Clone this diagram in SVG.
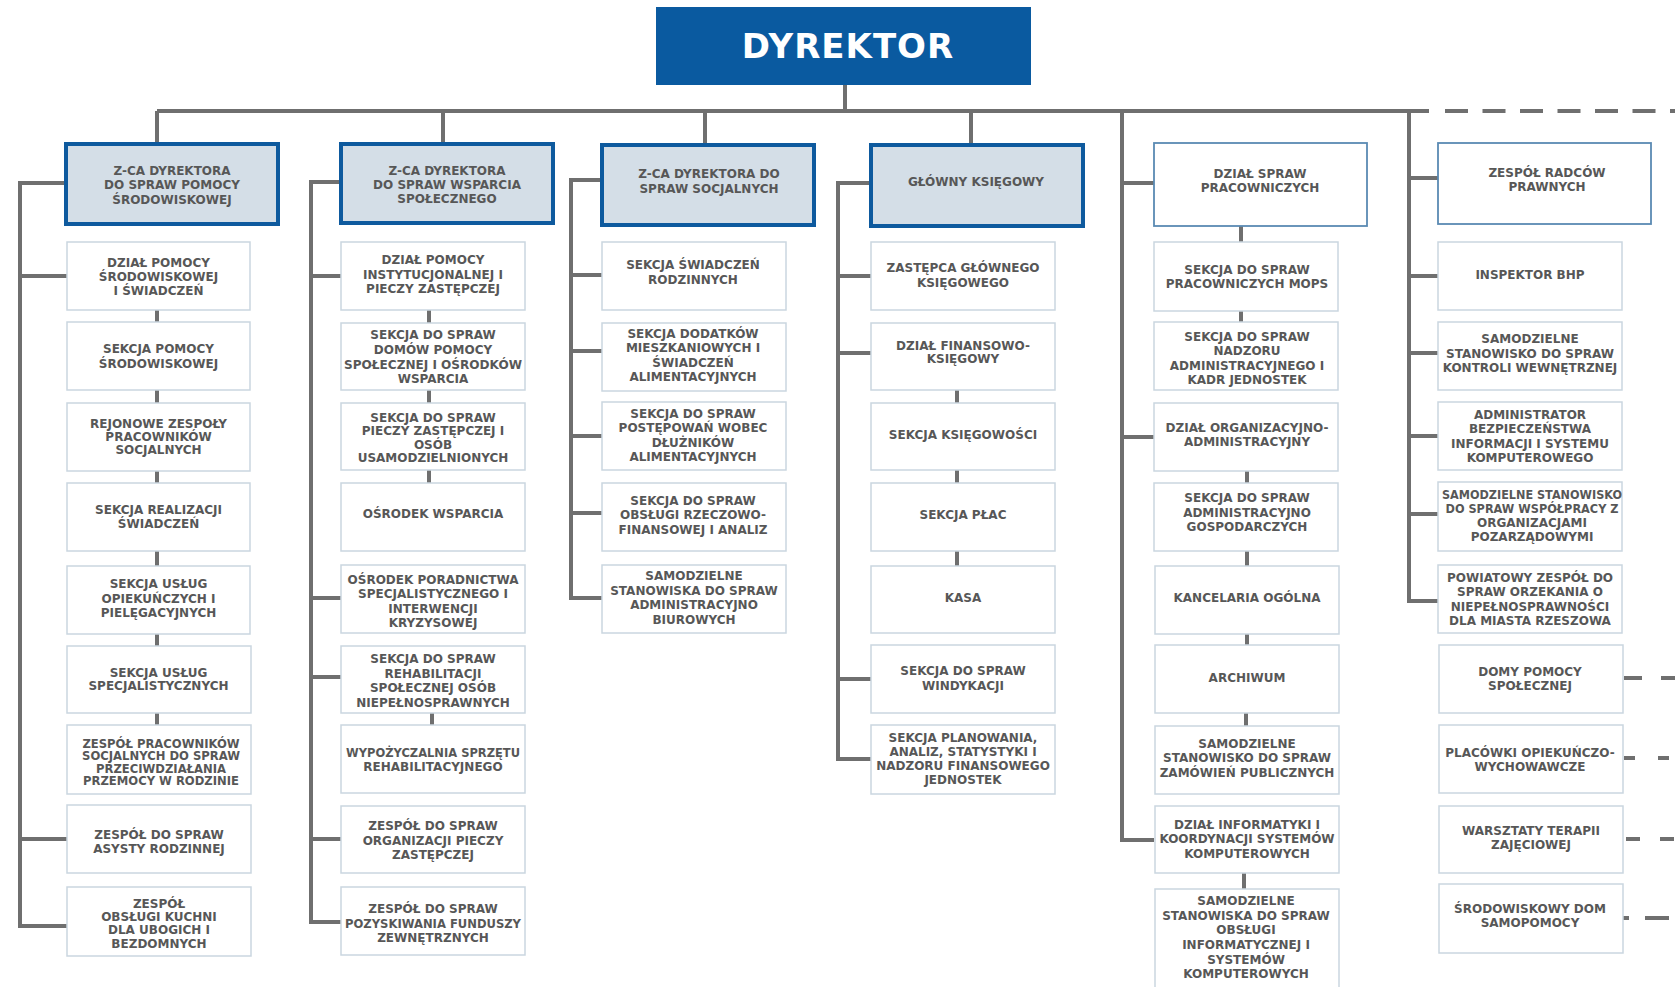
<svg xmlns="http://www.w3.org/2000/svg" width="1675" height="987" viewBox="0 0 1675 987">
<style>
.hd{fill:#d4dee7;stroke:#0e5a9e;stroke-width:4}
.hd2{fill:#fff;stroke:#5a8ab3;stroke-width:1.8}
.bx{fill:#fff;stroke:#cad6e0;stroke-width:1.5}
.t{font-family:"DejaVu Sans","Liberation Sans",sans-serif;font-weight:bold;font-size:12px;fill:#575757;text-anchor:middle}
.ln{stroke:#6f6f6f;stroke-width:4;fill:none}
.dl{stroke:#6f6f6f;stroke-width:4;fill:none}
.dir{font-family:"DejaVu Sans","Liberation Sans",sans-serif;font-weight:bold;font-size:34px;fill:#fff;text-anchor:middle;letter-spacing:1px}
</style>
<rect width="1675" height="987" fill="#fff"/>
<g id="connectors">
<path class="ln" d="M845 85V111M157 111H1429M157 111V142M443 111V142M705 111V143M971 111V143"/>
<path class="dl" d="M1445 111H1675" stroke-dasharray="23 14.5"/>
<path class="ln" d="M64 183H20V926H67M20 276H67M20 839H67"/>
<path class="ln" d="M157 310V322M157 390V403M157 471V483M157 551V566M157 634V646M157 713V725"/>
<path class="ln" d="M339 182H311V922H341M311 276H341M311 598H341M311 677H341M311 839H341"/>
<path class="ln" d="M429 310V323M429 390V403M429 470V483M432 713V725"/>
<path class="ln" d="M600 180H571V598H602M571 275H602M571 351H602M571 436H602M571 513H602"/>
<path class="ln" d="M869 183H838V759H871M838 276H871M838 353H871M838 679H871"/>
<path class="ln" d="M957 390V403M957 470V483M957 551V566"/>
<path class="ln" d="M1122 111V840H1154M1122 183H1154M1122 437H1154"/>
<path class="ln" d="M1241 226V242M1241 311V322M1247 471V483M1247 551V566M1247 634V645M1246 713V726M1244 873V889"/>
<path class="ln" d="M1409 111V601H1438M1409 178H1438M1409 276H1438M1409 353H1438M1409 436H1438M1409 514H1438"/>
<path class="dl" d="M1624 678H1675" stroke-dasharray="18 19"/>
<path class="dl" d="M1624 758H1675" stroke-dasharray="11 23"/>
<path class="dl" d="M1626 839H1675" stroke-dasharray="14 20"/>
<path class="dl" d="M1622 918H1675" stroke-dasharray="7 16 24 20"/>
</g>

<g id="dyrektor">
<rect x="656" y="7" width="375" height="78" fill="#0a5aa0"/>
<text class="dir" x="848" y="58">DYREKTOR</text>
</g>

<!-- Column 1 -->
<g id="c1-head"><rect class="hd" x="66" y="144" width="212" height="80"/>
<text class="t" x="172"><tspan x="172" y="175">Z-CA DYREKTORA</tspan><tspan x="172" y="189">DO SPRAW POMOCY</tspan><tspan x="172" y="203.5">ŚRODOWISKOWEJ</tspan></text></g>
<g id="c1-1"><rect class="bx" x="67" y="242" width="183" height="68"/>
<text class="t"><tspan x="158.5" y="266.5">DZIAŁ POMOCY</tspan><tspan x="158.5" y="281">ŚRODOWISKOWEJ</tspan><tspan x="158.5" y="295">I ŚWIADCZEŃ</tspan></text></g>
<g id="c1-2"><rect class="bx" x="67" y="322" width="183" height="68"/>
<text class="t"><tspan x="158.5" y="353">SEKCJA POMOCY</tspan><tspan x="158.5" y="367.5">ŚRODOWISKOWEJ</tspan></text></g>
<g id="c1-3"><rect class="bx" x="67" y="403" width="183" height="68"/>
<text class="t"><tspan x="158.5" y="427.5">REJONOWE ZESPOŁY</tspan><tspan x="158.5" y="441">PRACOWNIKÓW</tspan><tspan x="158.5" y="454">SOCJALNYCH</tspan></text></g>
<g id="c1-4"><rect class="bx" x="67" y="483" width="183" height="68"/>
<text class="t"><tspan x="158.5" y="514">SEKCJA REALIZACJI</tspan><tspan x="158.5" y="527.5">ŚWIADCZEŃ</tspan></text></g>
<g id="c1-5"><rect class="bx" x="67" y="566" width="183" height="68"/>
<text class="t"><tspan x="158.5" y="588">SEKCJA USŁUG</tspan><tspan x="158.5" y="602.5">OPIEKUŃCZYCH I</tspan><tspan x="158.5" y="617">PIELĘGACYJNYCH</tspan></text></g>
<g id="c1-6"><rect class="bx" x="67" y="646" width="184" height="67"/>
<text class="t"><tspan x="158.5" y="676.5">SEKCJA USŁUG</tspan><tspan x="158.5" y="690">SPECJALISTYCZNYCH</tspan></text></g>
<g id="c1-7"><rect class="bx" x="67" y="725" width="184" height="69"/>
<text class="t" style="font-size:11.6px"><tspan x="161" y="747.5">ZESPÓŁ PRACOWNIKÓW</tspan><tspan x="161" y="760">SOCJALNYCH DO SPRAW</tspan><tspan x="161" y="772.5">PRZECIWDZIAŁANIA</tspan><tspan x="161" y="785">PRZEMOCY W RODZINIE</tspan></text></g>
<g id="c1-8"><rect class="bx" x="67" y="805" width="184" height="68"/>
<text class="t"><tspan x="159" y="839">ZESPÓŁ DO SPRAW</tspan><tspan x="159" y="853">ASYSTY RODZINNEJ</tspan></text></g>
<g id="c1-9"><rect class="bx" x="67" y="887" width="184" height="69"/>
<text class="t"><tspan x="159" y="907.5">ZESPÓŁ</tspan><tspan x="159" y="921">OBSŁUGI KUCHNI</tspan><tspan x="159" y="934">DLA UBOGICH I</tspan><tspan x="159" y="947.5">BEZDOMNYCH</tspan></text></g>

<!-- Column 2 -->
<g id="c2-head"><rect class="hd" x="341" y="144" width="212" height="79"/>
<text class="t"><tspan x="447" y="175">Z-CA DYREKTORA</tspan><tspan x="447" y="188.5">DO SPRAW WSPARCIA</tspan><tspan x="447" y="203">SPOŁECZNEGO</tspan></text></g>
<g id="c2-1"><rect class="bx" x="341" y="242" width="184" height="68"/>
<text class="t"><tspan x="433" y="264">DZIAŁ POMOCY</tspan><tspan x="433" y="278.5">INSTYTUCJONALNEJ I</tspan><tspan x="433" y="293">PIECZY ZASTĘPCZEJ</tspan></text></g>
<g id="c2-2"><rect class="bx" x="341" y="323" width="184" height="67"/>
<text class="t"><tspan x="433" y="339">SEKCJA DO SPRAW</tspan><tspan x="433" y="353.5">DOMÓW POMOCY</tspan><tspan x="433" y="368.5" textLength="178" lengthAdjust="spacingAndGlyphs">SPOŁECZNEJ I OŚRODKÓW</tspan><tspan x="433" y="383">WSPARCIA</tspan></text></g>
<g id="c2-3"><rect class="bx" x="341" y="403" width="184" height="67"/>
<text class="t"><tspan x="433" y="421.5">SEKCJA DO SPRAW</tspan><tspan x="433" y="435">PIECZY ZASTĘPCZEJ I</tspan><tspan x="433" y="448.5">OSÓB</tspan><tspan x="433" y="461.5">USAMODZIELNIONYCH</tspan></text></g>
<g id="c2-4"><rect class="bx" x="341" y="483" width="184" height="68"/>
<text class="t"><tspan x="433" y="517.5">OŚRODEK WSPARCIA</tspan></text></g>
<g id="c2-5"><rect class="bx" x="341" y="565" width="184" height="68"/>
<text class="t"><tspan x="433" y="583.5">OŚRODEK PORADNICTWA</tspan><tspan x="433" y="598">SPECJALISTYCZNEGO I</tspan><tspan x="433" y="612.5">INTERWENCJI</tspan><tspan x="433" y="627">KRYZYSOWEJ</tspan></text></g>
<g id="c2-6"><rect class="bx" x="341" y="646" width="184" height="67"/>
<text class="t"><tspan x="433" y="662.5">SEKCJA DO SPRAW</tspan><tspan x="433" y="677.5">REHABILITACJI</tspan><tspan x="433" y="692">SPOŁECZNEJ OSÓB</tspan><tspan x="433" y="706.5">NIEPEŁNOSPRAWNYCH</tspan></text></g>
<g id="c2-7"><rect class="bx" x="341" y="725" width="184" height="68"/>
<text class="t"><tspan x="433" y="756.5" textLength="174" lengthAdjust="spacingAndGlyphs">WYPOŻYCZALNIA SPRZĘTU</tspan><tspan x="433" y="771">REHABILITACYJNEGO</tspan></text></g>
<g id="c2-8"><rect class="bx" x="341" y="806" width="184" height="67"/>
<text class="t"><tspan x="433" y="830">ZESPÓŁ DO SPRAW</tspan><tspan x="433" y="845">ORGANIZACJI PIECZY</tspan><tspan x="433" y="859">ZASTĘPCZEJ</tspan></text></g>
<g id="c2-9"><rect class="bx" x="341" y="887" width="184" height="68"/>
<text class="t"><tspan x="433" y="912.5">ZESPÓŁ DO SPRAW</tspan><tspan x="433" y="927.5" textLength="176" lengthAdjust="spacingAndGlyphs">POZYSKIWANIA FUNDUSZY</tspan><tspan x="433" y="941.5">ZEWNĘTRZNYCH</tspan></text></g>

<!-- Column 3 -->
<g id="c3-head"><rect class="hd" x="602" y="145" width="212" height="80"/>
<text class="t"><tspan x="709" y="178">Z-CA DYREKTORA DO</tspan><tspan x="709" y="192.5">SPRAW SOCJALNYCH</tspan></text></g>
<g id="c3-1"><rect class="bx" x="602" y="242" width="184" height="68"/>
<text class="t"><tspan x="693" y="269">SEKCJA ŚWIADCZEŃ</tspan><tspan x="693" y="283.5">RODZINNYCH</tspan></text></g>
<g id="c3-2"><rect class="bx" x="602" y="323" width="184" height="68"/>
<text class="t"><tspan x="693" y="337.5">SEKCJA DODATKÓW</tspan><tspan x="693" y="352">MIESZKANIOWYCH I</tspan><tspan x="693" y="366.5">ŚWIADCZEŃ</tspan><tspan x="693" y="381">ALIMENTACYJNYCH</tspan></text></g>
<g id="c3-3"><rect class="bx" x="602" y="402" width="184" height="68"/>
<text class="t"><tspan x="693" y="417.5">SEKCJA DO SPRAW</tspan><tspan x="693" y="432">POSTĘPOWAŃ WOBEC</tspan><tspan x="693" y="446.5">DŁUŻNIKÓW</tspan><tspan x="693" y="461">ALIMENTACYJNYCH</tspan></text></g>
<g id="c3-4"><rect class="bx" x="602" y="483" width="184" height="68"/>
<text class="t"><tspan x="693" y="505">SEKCJA DO SPRAW</tspan><tspan x="693" y="519">OBSŁUGI RZECZOWO-</tspan><tspan x="693" y="533.5">FINANSOWEJ I ANALIZ</tspan></text></g>
<g id="c3-5"><rect class="bx" x="602" y="565" width="184" height="68"/>
<text class="t"><tspan x="694" y="580">SAMODZIELNE</tspan><tspan x="694" y="595">STANOWISKA DO SPRAW</tspan><tspan x="694" y="609">ADMINISTRACYJNO</tspan><tspan x="694" y="623.5">BIUROWYCH</tspan></text></g>

<!-- Column 4 -->
<g id="c4-head"><rect class="hd" x="871" y="145" width="212" height="81"/>
<text class="t"><tspan x="976" y="186">GŁÓWNY KSIĘGOWY</tspan></text></g>
<g id="c4-1"><rect class="bx" x="871" y="242" width="184" height="68"/>
<text class="t"><tspan x="963" y="272">ZASTĘPCA GŁÓWNEGO</tspan><tspan x="963" y="286.5">KSIĘGOWEGO</tspan></text></g>
<g id="c4-2"><rect class="bx" x="871" y="323" width="184" height="67"/>
<text class="t"><tspan x="963" y="350">DZIAŁ FINANSOWO-</tspan><tspan x="963" y="362.5">KSIĘGOWY</tspan></text></g>
<g id="c4-3"><rect class="bx" x="871" y="403" width="184" height="67"/>
<text class="t"><tspan x="963" y="438.5">SEKCJA KSIĘGOWOŚCI</tspan></text></g>
<g id="c4-4"><rect class="bx" x="871" y="483" width="184" height="68"/>
<text class="t"><tspan x="963" y="518.5">SEKCJA PŁAC</tspan></text></g>
<g id="c4-5"><rect class="bx" x="871" y="566" width="184" height="67"/>
<text class="t"><tspan x="963" y="602">KASA</tspan></text></g>
<g id="c4-6"><rect class="bx" x="871" y="645" width="184" height="68"/>
<text class="t"><tspan x="963" y="675">SEKCJA DO SPRAW</tspan><tspan x="963" y="690">WINDYKACJI</tspan></text></g>
<g id="c4-7"><rect class="bx" x="871" y="725" width="184" height="69"/>
<text class="t"><tspan x="963" y="741.5">SEKCJA PLANOWANIA,</tspan><tspan x="963" y="756">ANALIZ, STATYSTYKI I</tspan><tspan x="963" y="770">NADZORU FINANSOWEGO</tspan><tspan x="963" y="784">JEDNOSTEK</tspan></text></g>

<!-- Column 5 -->
<g id="c5-head"><rect class="hd2" x="1154" y="143" width="213" height="83"/>
<text class="t"><tspan x="1260" y="177.5">DZIAŁ SPRAW</tspan><tspan x="1260" y="192">PRACOWNICZYCH</tspan></text></g>
<g id="c5-1"><rect class="bx" x="1154" y="242" width="184" height="69"/>
<text class="t"><tspan x="1247" y="273.5">SEKCJA DO SPRAW</tspan><tspan x="1247" y="288">PRACOWNICZYCH MOPS</tspan></text></g>
<g id="c5-2"><rect class="bx" x="1154" y="322" width="184" height="68"/>
<text class="t"><tspan x="1247" y="341">SEKCJA DO SPRAW</tspan><tspan x="1247" y="355">NADZORU</tspan><tspan x="1247" y="370">ADMINISTRACYJNEGO I</tspan><tspan x="1247" y="384">KADR JEDNOSTEK</tspan></text></g>
<g id="c5-3"><rect class="bx" x="1154" y="403" width="184" height="68"/>
<text class="t"><tspan x="1247" y="432">DZIAŁ ORGANIZACYJNO-</tspan><tspan x="1247" y="446">ADMINISTRACYJNY</tspan></text></g>
<g id="c5-4"><rect class="bx" x="1154" y="483" width="184" height="68"/>
<text class="t"><tspan x="1247" y="502">SEKCJA DO SPRAW</tspan><tspan x="1247" y="516.5">ADMINISTRACYJNO</tspan><tspan x="1247" y="531">GOSPODARCZYCH</tspan></text></g>
<g id="c5-5"><rect class="bx" x="1155" y="566" width="184" height="68"/>
<text class="t"><tspan x="1247" y="602">KANCELARIA OGÓLNA</tspan></text></g>
<g id="c5-6"><rect class="bx" x="1155" y="645" width="184" height="68"/>
<text class="t"><tspan x="1247" y="682">ARCHIWUM</tspan></text></g>
<g id="c5-7"><rect class="bx" x="1155" y="726" width="184" height="68"/>
<text class="t"><tspan x="1247" y="747.5">SAMODZIELNE</tspan><tspan x="1247" y="762">STANOWISKO DO SPRAW</tspan><tspan x="1247" y="776.5">ZAMÓWIEŃ PUBLICZNYCH</tspan></text></g>
<g id="c5-8"><rect class="bx" x="1155" y="806" width="184" height="67"/>
<text class="t"><tspan x="1247" y="828.5">DZIAŁ INFORMATYKI I</tspan><tspan x="1247" y="843">KOORDYNACJI SYSTEMÓW</tspan><tspan x="1247" y="857.5">KOMPUTEROWYCH</tspan></text></g>
<g id="c5-9"><rect class="bx" x="1155" y="889" width="184" height="104"/>
<text class="t"><tspan x="1246" y="905">SAMODZIELNE</tspan><tspan x="1246" y="920">STANOWISKA DO SPRAW</tspan><tspan x="1246" y="934">OBSŁUGI</tspan><tspan x="1246" y="949">INFORMATYCZNEJ I</tspan><tspan x="1246" y="963.5">SYSTEMÓW</tspan><tspan x="1246" y="977.5">KOMPUTEROWYCH</tspan></text></g>

<!-- Column 6 -->
<g id="c6-head"><rect class="hd2" x="1438" y="143" width="213" height="81"/>
<text class="t"><tspan x="1547" y="176.5">ZESPÓŁ RADCÓW</tspan><tspan x="1547" y="191">PRAWNYCH</tspan></text></g>
<g id="c6-1"><rect class="bx" x="1438" y="242" width="184" height="68"/>
<text class="t"><tspan x="1530" y="279">INSPEKTOR BHP</tspan></text></g>
<g id="c6-2"><rect class="bx" x="1438" y="322" width="184" height="68"/>
<text class="t"><tspan x="1530" y="343">SAMODZIELNE</tspan><tspan x="1530" y="357.5">STANOWISKO DO SPRAW</tspan><tspan x="1530" y="372">KONTROLI WEWNĘTRZNEJ</tspan></text></g>
<g id="c6-3"><rect class="bx" x="1438" y="402" width="184" height="68"/>
<text class="t"><tspan x="1530" y="418.5">ADMINISTRATOR</tspan><tspan x="1530" y="433">BEZPIECZEŃSTWA</tspan><tspan x="1530" y="447.5">INFORMACJI I SYSTEMU</tspan><tspan x="1530" y="462">KOMPUTEROWEGO</tspan></text></g>
<g id="c6-4"><rect class="bx" x="1438" y="482" width="184" height="69"/>
<text class="t"><tspan x="1532" y="499" textLength="180" lengthAdjust="spacingAndGlyphs">SAMODZIELNE STANOWISKO</tspan><tspan x="1532" y="513" textLength="173" lengthAdjust="spacingAndGlyphs">DO SPRAW WSPÓŁPRACY Z</tspan><tspan x="1532" y="527">ORGANIZACJAMI</tspan><tspan x="1532" y="541">POZARZĄDOWYMI</tspan></text></g>
<g id="c6-5"><rect class="bx" x="1438" y="565" width="184" height="68"/>
<text class="t"><tspan x="1530" y="581.5">POWIATOWY ZESPÓŁ DO</tspan><tspan x="1530" y="596">SPRAW ORZEKANIA O</tspan><tspan x="1530" y="611">NIEPEŁNOSPRAWNOŚCI</tspan><tspan x="1530" y="625">DLA MIASTA RZESZOWA</tspan></text></g>
<g id="c6-6"><rect class="bx" x="1439" y="645" width="184" height="68"/>
<text class="t"><tspan x="1530" y="676">DOMY POMOCY</tspan><tspan x="1530" y="690">SPOŁECZNEJ</tspan></text></g>
<g id="c6-7"><rect class="bx" x="1439" y="725" width="184" height="68"/>
<text class="t"><tspan x="1530" y="756.5">PLACÓWKI OPIEKUŃCZO-</tspan><tspan x="1530" y="771">WYCHOWAWCZE</tspan></text></g>
<g id="c6-8"><rect class="bx" x="1439" y="806" width="184" height="67"/>
<text class="t"><tspan x="1531" y="835">WARSZTATY TERAPII</tspan><tspan x="1531" y="849">ZAJĘCIOWEJ</tspan></text></g>
<g id="c6-9"><rect class="bx" x="1439" y="884" width="184" height="69"/>
<text class="t"><tspan x="1530" y="912.5">ŚRODOWISKOWY DOM</tspan><tspan x="1530" y="927">SAMOPOMOCY</tspan></text></g>
</svg>
